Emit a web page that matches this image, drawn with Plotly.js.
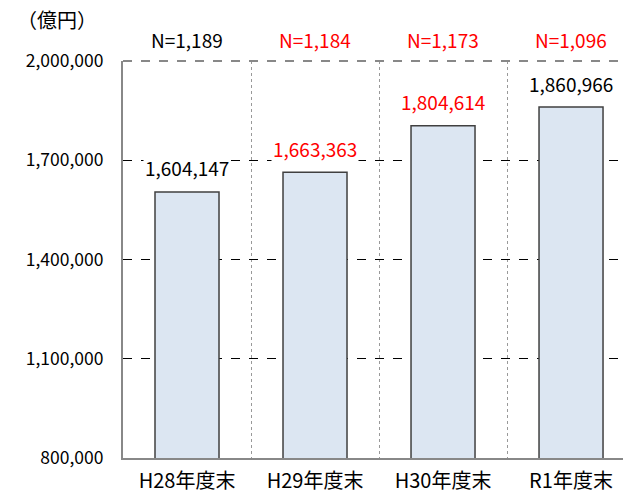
<!DOCTYPE html>
<html>
<head>
<meta charset="utf-8">
<script src="https://cdn.plot.ly/plotly-3.0.1.min.js"></script>
<style>body{margin:0;background:#fff;}#chart{width:623px;height:501px;}</style>
</head>
<body>
<div id="chart"></div>
<script>
const categories = ['H28年度末', 'H29年度末', 'H30年度末', 'R1年度末'];
const values = [1604147, 1663363, 1804614, 1860966];
const counts = ['N=1,189', 'N=1,184', 'N=1,173', 'N=1,096'];
const labelColors = ['#000000', '#ff0000', '#ff0000', '#000000'];
const countColors = ['#000000', '#ff0000', '#ff0000', '#ff0000'];

const font = '"Noto Sans CJK JP", "Noto Sans", sans-serif';

const trace = {
    type: 'bar',
    x: categories,
    y: values,
    width: 0.5,
    marker: { color: '#dce6f2', line: { color: '#404040', width: 1.5 } },
    hoverinfo: 'none'
};

const annotations = [];
values.forEach((v, i) => {
    annotations.push({
        x: categories[i], y: v, xref: 'x', yref: 'y',
        text: v.toLocaleString('en-US'),
        showarrow: false, yshift: 24, yanchor: 'middle', bgcolor: '#ffffff',
        font: { family: font, size: 19, color: labelColors[i] }
    });
    annotations.push({
        x: categories[i], y: 1, xref: 'x', yref: 'paper',
        text: counts[i], showarrow: false, yshift: 22, yanchor: 'middle',
        font: { family: font, size: 19, color: countColors[i] }
    });
});
annotations.push({
    x: 0, y: 1, xref: 'paper', yref: 'paper', xshift: -108, yshift: 42,
    xanchor: 'left', yanchor: 'middle', text: '（億円）', showarrow: false,
    font: { family: font, size: 20, color: '#000' }
});

const layout = {
    width: 623, height: 501,
    margin: { l: 123, r: 0, t: 61, b: 43 },
    paper_bgcolor: '#fff', plot_bgcolor: '#fff',
    showlegend: false,
    font: { family: font, size: 15, color: '#000' },
    xaxis: {
        type: 'category',
        range: [-0.5, 3.406],
        tickson: 'boundaries',
        ticks: '',
        showgrid: true, gridcolor: '#999', griddash: 'dot', gridwidth: 1,
        showline: true, linecolor: '#888', linewidth: 2,
        tickfont: { family: font, size: 20 },
        ticklabelstandoff: 4
    },
    yaxis: {
        range: [800000, 2000000],
        dtick: 300000, tick0: 800000,
        tickformat: ',',
        showgrid: true, gridcolor: '#000', griddash: 'dash', gridwidth: 1,
        showline: true, linecolor: '#888', linewidth: 2,
        zeroline: false,
        ticks: '',
        tickfont: { family: font, size: 17.5 },
        ticklabelstandoff: 14
    },
    shapes: [{
        type: 'line', xref: 'paper', yref: 'paper', x0: 0, x1: 1, y0: 1, y1: 1,
        line: { color: '#888', width: 2, dash: 'dash' }
    }],
    annotations: annotations
};

Plotly.newPlot('chart', [trace], layout, { displayModeBar: false, staticPlot: true });
</script>
</body>
</html>
